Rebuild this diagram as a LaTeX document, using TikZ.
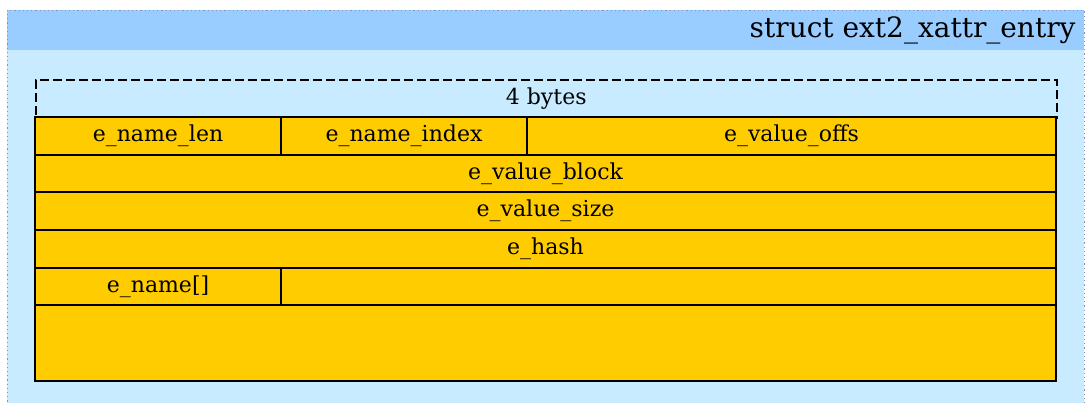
\documentclass[tikz,border=0pt]{standalone}
\usepackage{fontspec}
\setmainfont{DejaVu Serif}
\usepackage{xcolor}
\usepackage{tikz}
\usetikzlibrary{positioning}
\definecolor{hdrblue}{HTML}{99CCFF}
\definecolor{bgblue}{HTML}{C9EBFF}
\definecolor{fldyellow}{HTML}{FFCC00}
\definecolor{dotgray}{HTML}{8A8FB0}

\begin{document}
\begin{tikzpicture}[
  x=1pt,y=-1pt,
  font=\fontsize{22}{26}\selectfont,
  fld/.style={rectangle,draw,line width=1.6pt,fill=fldyellow,anchor=north west,
    minimum height=38pt,inner sep=0pt,outer sep=0pt},
  bytes/.style={rectangle,draw,dash pattern=on 9pt off 4pt,line width=1.5pt,anchor=north west,
    minimum width=1021pt,minimum height=38pt,inner sep=0pt},
  ttl/.style={font=\fontsize{28}{32}\selectfont,anchor=east}
]
\useasboundingbox (0,0) rectangle (1086,402);
% struct frame
\fill[bgblue] (7,10) rectangle (1084,410);
\fill[hdrblue] (7,10) rectangle (1084,50);
\draw[dotgray,dash pattern=on 1.2pt off 3pt,line width=1pt] (7,410) -- (7,10) -- (1084,10) -- (1084,410);
\node[ttl] (title) at (1079,30) {struct ext2\_xattr\_entry};
% width marker
\node[bytes] (bytes) at (35,79) {4 bytes};
% fields
\node[fld,minimum width=246pt] (namelen) at (35,117) {e\_name\_len};
\node[fld,minimum width=246pt] (nameidx) at (281,117) {e\_name\_index};
\node[fld,minimum width=529pt] (valoffs) at (527,117) {e\_value\_offs};
\node[fld,minimum width=1021pt] (valblk) at (35,155) {e\_value\_block};
\node[fld,minimum width=1021pt] (valsize) at (35,192) {e\_value\_size};
\node[fld,minimum width=1021pt] (hash) at (35,230) {e\_hash};
\node[fld,minimum width=246pt] (name) at (35,268) {e\_name[]};
\node[fld,minimum width=775pt] (namerest) at (281,268) {};
\node[fld,minimum width=1021pt,minimum height=76pt] (pad) at (35,305) {};
\end{tikzpicture}
\end{document}
